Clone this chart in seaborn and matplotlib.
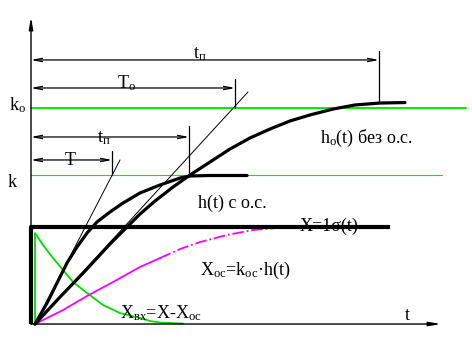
import numpy as np
import pandas as pd
import matplotlib
matplotlib.use('Agg')
import matplotlib.pyplot as plt
import seaborn as sns

# curves: time t, value (X = 1 level)
h_t = [0.2, 0.8, 1.3, 1.8, 2.3, 2.8, 3.3, 3.95, 4.6, 5.45, 6.45, 7.45, 7.95, 8.95, 10.8]
h_v = [0, 0.216, 0.423, 0.629, 0.794, 0.938, 1.052, 1.155, 1.247, 1.351, 1.433, 1.505, 1.526, 1.531, 1.531]

ho_t = [0.2, 1.45, 2.7, 3.95, 4.8, 5.45, 6.2, 7.1, 7.95, 8.95, 9.95, 10.95, 11.95, 12.95,
        13.95, 15.1, 16.2, 17.45, 18.7]
ho_v = [0, 0.278, 0.546, 0.825, 1.0, 1.134, 1.268, 1.412, 1.536, 1.67, 1.804, 1.918, 2.010,
        2.093, 2.155, 2.216, 2.258, 2.278, 2.283]

xoc_t = [0.2, 1.6, 2.8, 4.1, 5.45, 6.45, 7.45, 8.45, 9.8, 11.1, 12.8, 13.2]
xoc_v = [0, 0.144, 0.289, 0.433, 0.588, 0.680, 0.773, 0.845, 0.918, 0.969, 1.0, 1.0]
xoc_solid = 6

xvh_t = [0.2, 0.2, 0.6, 1.1, 1.6, 2.1, 2.8, 3.6, 4.45, 5.45, 5.95, 6.45, 7.6]
xvh_v = [0, 0.938, 0.814, 0.680, 0.557, 0.433, 0.320, 0.196, 0.113, 0.062, 0.031, 0.015, 0.005]

step_t = [0, 0, 17.95]
step_v = [0, 1, 1]

k_o = 2.227
k_o_end = 21.75
k = 1.536
k_end = 20.55

# dimension arrows and their end marks
arrow_levels = [2.722, 2.433, 1.928, 1.691]
arrow_ends = [17.4, 10.2, 7.9, 4.05]
mark_lo = [2.278, 2.227, 1.536, 1.536]
mark_hi = [2.814, 2.526, 2.041, 1.784]

# tangents from origin
tan_t = [[0.2, 4.45], [0.2, 10.85]]
tan_v = [[0, 1.691], [0, 2.392]]

axis_t_max = 20.5
axis_v_max = 3.165

labels = ['$\\mathrm{t_{п}}$', 'T$_{\\mathrm{o}}$', 'k$_{\\mathrm{o}}$', '$\\mathrm{t_{п}}$', 'T', 'k',
          'h$_{\\mathrm{o}}$(t) без о.с.', 'h(t) с о.с.', 'X=1σ(t)',
          'X$_{\\mathrm{oc}}$=k$_{\\mathrm{oc}}$·h(t)', 'X$_{\\mathrm{вх}}$=X-X$_{\\mathrm{oc}}$', 't']
label_t = [8.1, 4.3, -1.1, 3.3, 1.7, -1.15, 14.45, 8.35, 13.45, 8.45, 4.45, 18.7]
label_v = [2.742, 2.433, 2.206, 1.876, 1.639, 1.412, 1.866, 1.196, 0.959, 0.505, 0.062, 0.041]

sns.set_style('white')
plt.rcParams['font.family'] = ['Liberation Serif', 'DejaVu Serif']
plt.rcParams['mathtext.fontset'] = 'custom'
plt.rcParams['mathtext.rm'] = 'Liberation Serif'
plt.rcParams['mathtext.it'] = 'Liberation Serif'

fig = plt.figure(figsize=(4.72, 3.38), dpi=100)
ax = fig.add_axes([0, 0, 1, 1])
ax.set_xlim(-1.55, 22.05)
ax.set_ylim(-0.144, 3.340)
ax.axis('off')

# level lines
ax.plot([0, k_o_end], [k_o, k_o], color='#00ee00', lw=1.4)
ax.plot([0, k_end], [k, k], color='#33cc33', lw=0.8)

# dimension arrows
for lvl, end, lo, hi in zip(arrow_levels, arrow_ends, mark_lo, mark_hi):
    ax.annotate('', xy=(0, lvl), xytext=(end, lvl),
                arrowprops=dict(arrowstyle='<->,head_length=0.6,head_width=0.12',
                                lw=0.9, color='black', shrinkA=0, shrinkB=0))
    ax.plot([end, end], [lo, hi], color='black', lw=0.9)

for tt, vv in zip(tan_t, tan_v):
    ax.plot(tt, vv, color='black', lw=0.7)

# curves
df_xvh = pd.DataFrame({'t': xvh_t, 'v': xvh_v})
sns.lineplot(data=df_xvh, x='t', y='v', sort=False, estimator=None, color='#00dd00', lw=1.3, ax=ax)
sns.lineplot(x=xoc_t[:xoc_solid], y=xoc_v[:xoc_solid], sort=False, estimator=None,
             color='#ff00ff', lw=1.3, ax=ax)
sns.lineplot(x=xoc_t[xoc_solid - 1:], y=xoc_v[xoc_solid - 1:], sort=False, estimator=None,
             color='#ff00ff', lw=1.3, ls='-.', ax=ax)
sns.lineplot(x=ho_t, y=ho_v, sort=False, estimator=None, color='black', lw=2.3, ax=ax)
sns.lineplot(x=h_t, y=h_v, sort=False, estimator=None, color='black', lw=2.3, ax=ax)

# axes with arrows
ax.annotate('', xy=(axis_t_max, 0), xytext=(0, 0),
            arrowprops=dict(arrowstyle='-|>,head_length=0.7,head_width=0.12',
                            lw=1.0, color='black', shrinkA=0, shrinkB=0))
ax.annotate('', xy=(0, axis_v_max), xytext=(0, 0),
            arrowprops=dict(arrowstyle='-|>,head_length=0.7,head_width=0.12',
                            lw=1.0, color='black', shrinkA=0, shrinkB=0))

for txt, tx, vy in zip(labels, label_t, label_v):
    ax.text(tx, vy, txt, fontsize=13, ha='left', va='baseline', color='black')

# unit step on top of the labels
ax.plot(step_t, step_v, color='black', lw=3.0, solid_capstyle='butt')

fig.savefig('out.png', dpi=100)
